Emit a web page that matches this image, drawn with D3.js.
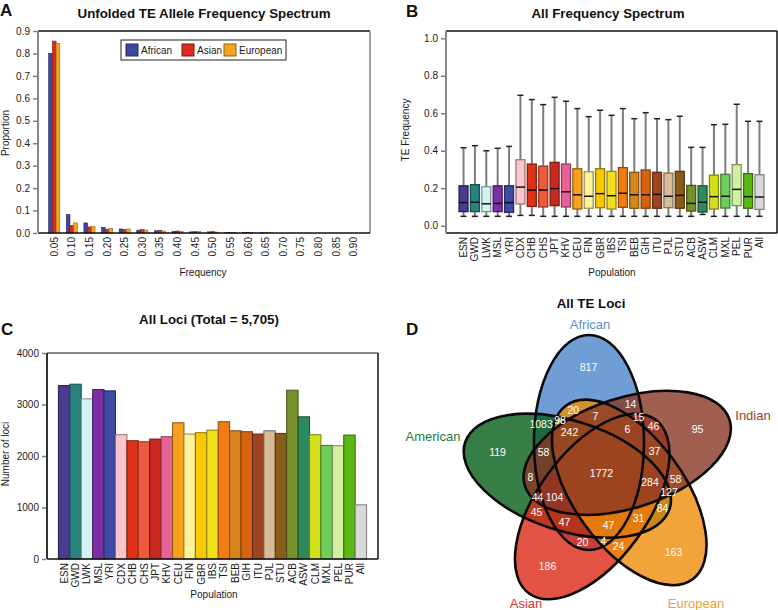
<!DOCTYPE html>
<html><head><meta charset="utf-8">
<script src="https://cdn.jsdelivr.net/npm/d3@7"></script>
<style>body{margin:0;background:#fff}svg text{font-family:"Liberation Sans",Arial,Helvetica,sans-serif}</style>
</head><body><svg id="c" width="778" height="610"></svg>
<script>
// ---------------- DATA ----------------
// Panel A: unfolded allele frequency spectrum
const freqBins = ["0.05","0.10","0.15","0.20","0.25","0.30","0.35","0.40","0.45","0.50","0.55","0.60","0.65","0.70","0.75","0.80","0.85","0.90"];
const afsAfrican  = [0.800,0.082,0.045,0.025,0.018,0.013,0.010,0.007,0.005,0.005,0.003,0.002,0.001,0,0,0,0,0];
const afsAsian    = [0.855,0.034,0.027,0.016,0.015,0.015,0.012,0.009,0.006,0.006,0.003,0.002,0.001,0,0,0,0,0];
const afsEuropean = [0.845,0.045,0.030,0.021,0.018,0.013,0.009,0.007,0.006,0.004,0.003,0.002,0.001,0,0,0,0,0];
const afsGroups = ["African","Asian","European"];
const afsColors = ["#3d479f","#db2b1f","#f5a51f"];
const afsYTicks = [0,0.1,0.2,0.3,0.4,0.5,0.6,0.7,0.8,0.9];

// Panels B & C: populations
const populations = ["ESN","GWD","LWK","MSL","YRI","CDX","CHB","CHS","JPT","KHV","CEU","FIN","GBR","IBS","TSI","BEB","GIH","ITU","PJL","STU","ACB","ASW","CLM","MXL","PEL","PUR","All"];
const popColors = ["#4a3a90","#28837f","#d5f2f2","#7a30a0","#3f4aa5","#fbc5cc","#e0301a","#f05a3c","#c9291f","#e8629a","#f5a11c","#fff09a","#f8c800","#f2e01e","#f27c12","#d4861c","#d9620f","#9e4420","#d8bc98","#8a5c1c","#76902c","#2e8a5a","#d6e01a","#6fcd5a","#d2f0a2","#5ab714","#d9d9d9"];
const boxHi  = [0.416,0.427,0.400,0.413,0.423,0.696,0.673,0.646,0.685,0.664,0.625,0.582,0.616,0.589,0.625,0.571,0.603,0.571,0.566,0.584,0.418,0.418,0.539,0.541,0.648,0.557,0.557];
const boxQ3  = [0.213,0.219,0.208,0.213,0.213,0.352,0.329,0.318,0.338,0.329,0.304,0.288,0.304,0.290,0.310,0.285,0.297,0.285,0.281,0.290,0.215,0.213,0.270,0.274,0.326,0.278,0.272];
const boxMed = [0.123,0.125,0.117,0.119,0.123,0.206,0.190,0.190,0.198,0.181,0.165,0.157,0.171,0.160,0.173,0.165,0.165,0.167,0.157,0.162,0.119,0.125,0.155,0.157,0.194,0.155,0.153];
const boxQ1  = [0.075,0.075,0.075,0.075,0.071,0.116,0.103,0.100,0.107,0.100,0.089,0.093,0.096,0.089,0.098,0.093,0.093,0.093,0.096,0.093,0.078,0.073,0.089,0.094,0.107,0.093,0.087];
const boxLo  = [0.050,0.050,0.050,0.050,0.050,0.055,0.055,0.050,0.050,0.050,0.050,0.050,0.050,0.050,0.050,0.050,0.050,0.050,0.050,0.050,0.050,0.060,0.050,0.050,0.050,0.050,0.050];
const boxYTicks = [0,0.2,0.4,0.6,0.8,1.0];
const lociCounts = [3368,3394,3110,3290,3265,2413,2297,2277,2329,2374,2645,2426,2452,2503,2665,2490,2471,2426,2490,2439,3277,2761,2413,2206,2200,2406,1052];
const lociYTicks = [0,1000,2000,3000,4000];

// Panel D: five-set Venn (A=African, M=American, S=Asian, E=European, I=Indian)
const vennSets = ["African","American","Asian","European","Indian"];
const vennSetKeys = ["A","M","S","E","I"];
const vennFill = ["#4b86cb","#055c18","#db2814","#ef8c09","#883724"];
const vennLabelColor = ["#5b8fd0","#2a7a3a","#d8352a","#f0a030","#9a3f2a"];
const vennRegions = ["A","M","S","E","I","AM","AS","AE","AI","MS","ME","MI","SE","SI","EI","AMS","AME","AMI","ASE","ASI","AEI","MSE","MSI","MEI","SEI","AMSE","AMSI","AMEI","ASEI","MSEI","AMSEI"];
const vennCounts  = [817,119,186,163,95,1083,20,20,14,45,84,8,24,46,58,47,98,58,4,15,7,31,44,127,37,47,104,242,6,284,1772];

// ---------------- DRAW ----------------
const svg = d3.select("#c");
svg.append("rect").attr("width",778).attr("height",610).attr("fill","#fff");
const TXT = "#1a1a1a";

function panelLetter(t,x,y){ svg.append("text").attr("x",x).attr("y",y).attr("font-size",17).attr("font-weight","bold").attr("fill","#111").text(t); }
function title(t,x,y){ svg.append("text").attr("x",x).attr("y",y).attr("text-anchor","middle").attr("font-size",13.3).attr("font-weight","bold").attr("fill","#111").text(t); }
function line(x1,y1,x2,y2,c,w){ svg.append("line").attr("x1",x1).attr("y1",y1).attr("x2",x2).attr("y2",y2).attr("stroke",c).attr("stroke-width",w); }
function yAxis(scale,x,ticks,fmt){
  const g = svg.append("g").attr("transform",`translate(${x},0)`).call(d3.axisLeft(scale).tickValues(ticks).tickFormat(fmt).tickSize(4).tickPadding(3));
  g.select(".domain").remove();
  g.selectAll(".tick line").attr("stroke","#808080").attr("stroke-width",1.5);
  g.selectAll("text").attr("font-size",10).attr("fill",TXT);
}
function xAxisRot(scale,y){
  const g = svg.append("g").attr("transform",`translate(0,${y})`).call(d3.axisBottom(scale).tickSize(0).tickPadding(0));
  g.select(".domain").remove();
  g.selectAll("text").attr("font-size",10).attr("fill",TXT)
    .attr("transform","rotate(-90)").attr("text-anchor","end").attr("x",-4).attr("y",0).attr("dy","0.35em");
}
function vLabel(t,x,y){ svg.append("text").attr("transform",`translate(${x},${y}) rotate(-90)`).attr("text-anchor","middle").attr("font-size",10).attr("fill",TXT).text(t); }
function hLabel(t,x,y){ svg.append("text").attr("x",x).attr("y",y).attr("text-anchor","middle").attr("font-size",10).attr("fill",TXT).text(t); }

// ===== Panel A =====
const A = {l:38,r:370,t:31,b:233};
const xA = d3.scaleBand().domain(freqBins).range([A.l,A.r]).paddingInner(0).paddingOuter(0.42);
const xAg = d3.scaleBand().domain(afsGroups).range([0,xA.bandwidth()]).paddingInner(0).paddingOuter(0.88);
const yA = d3.scaleLinear().domain([0,0.9]).range([A.b,A.t]);
const afsSeries = [afsAfrican,afsAsian,afsEuropean];
afsGroups.forEach((grp,gi)=>{
  svg.append("g").selectAll("rect")
    .data(freqBins.map((f,i)=>({f,v:afsSeries[gi][i]})).filter(d=>d.v>0))
    .join("rect")
    .attr("x",d=>xA(d.f)+xAg(grp)).attr("y",d=>yA(d.v))
    .attr("width",xAg.bandwidth()).attr("height",d=>yA(0)-yA(d.v))
    .attr("fill",afsColors[gi]).attr("stroke",d3.color(afsColors[gi]).darker(1.3)).attr("stroke-width",0.6);
});
line(A.l,A.t,A.r,A.t,"#111",1.5);
line(A.r,A.t,A.r,A.b,"#888",1.5);
line(A.l,A.b,A.r,A.b,"#111",1.5);
line(A.l,A.t,A.l,A.b,"#888",2);
yAxis(yA,A.l-1,afsYTicks,d3.format(".1f"));
xAxisRot(xA,A.b);
panelLetter("A",0,16);
title("Unfolded TE Allele Frequency Spectrum",204,18);
vLabel("Proportion",9,133);
hLabel("Frequency",203,276);
// legend
const lg = svg.append("g");
lg.append("rect").attr("x",121).attr("y",40).attr("width",165).attr("height",20).attr("fill","#fff").attr("stroke","#222").attr("stroke-width",1);
const lgX = [126,182,224];
afsGroups.forEach((grp,gi)=>{
  lg.append("rect").attr("x",lgX[gi]).attr("y",44).attr("width",12).attr("height",12).attr("fill",afsColors[gi]).attr("stroke",d3.color(afsColors[gi]).darker(1.5)).attr("stroke-width",1);
  lg.append("text").attr("x",lgX[gi]+15).attr("y",54).attr("font-size",10).attr("fill",TXT).text(grp);
});

// ===== Panel B =====
const B = {l:446,r:777,t:31,b:233};
const xB = d3.scaleBand().domain(populations).range([B.l,B.r]).paddingInner(0).paddingOuter(1.04);
const yB = d3.scaleLinear().domain([0,1]).range([225.7,38.3]);
const boxData = populations.map((p,i)=>({p,c:popColors[i],hi:boxHi[i],q3:boxQ3[i],med:boxMed[i],q1:boxQ1[i],lo:boxLo[i]}));
const bw = 9;
const gB = svg.append("g");
const cxB = d=>xB(d.p)+xB.bandwidth()/2;
gB.selectAll(".wh").data(boxData).join("line").attr("x1",cxB).attr("x2",cxB).attr("y1",d=>yB(d.hi)).attr("y2",d=>yB(d.q3)).attr("stroke","#7d7d7d").attr("stroke-width",2);
gB.selectAll(".wl").data(boxData).join("line").attr("x1",cxB).attr("x2",cxB).attr("y1",d=>yB(d.q1)).attr("y2",d=>yB(d.lo)).attr("stroke","#7d7d7d").attr("stroke-width",2);
gB.selectAll(".ch").data(boxData).join("line").attr("x1",d=>cxB(d)-3).attr("x2",d=>cxB(d)+3).attr("y1",d=>yB(d.hi)).attr("y2",d=>yB(d.hi)).attr("stroke","#222").attr("stroke-width",1.5);
gB.selectAll(".cl").data(boxData).join("line").attr("x1",d=>cxB(d)-3).attr("x2",d=>cxB(d)+3).attr("y1",d=>yB(d.lo)).attr("y2",d=>yB(d.lo)).attr("stroke","#222").attr("stroke-width",1.5);
gB.selectAll(".bx").data(boxData).join("rect").attr("x",d=>cxB(d)-bw/2).attr("width",bw).attr("y",d=>yB(d.q3)).attr("height",d=>yB(d.q1)-yB(d.q3))
  .attr("fill",d=>d.c).attr("stroke",d=>d3.color(d.c).darker(1.4)).attr("stroke-width",1.3);
gB.selectAll(".md").data(boxData).join("line").attr("x1",d=>cxB(d)-bw/2).attr("x2",d=>cxB(d)+bw/2).attr("y1",d=>yB(d.med)).attr("y2",d=>yB(d.med)).attr("stroke","#111").attr("stroke-width",1.5);
line(B.l,B.t,B.r,B.t,"#111",1.5);
line(B.r,B.t,B.r,B.b,"#111",1.5);
line(B.l,B.b,B.r,B.b,"#111",1.5);
line(B.l,B.t,B.l,B.b,"#888",2);
yAxis(yB,B.l-1,boxYTicks,d3.format(".1f"));
xAxisRot(xB,B.b);
panelLetter("B",406,17);
title("All Frequency Spectrum",608,18);
vLabel("TE Frequency",409,130);
hLabel("Population",612,276);

// ===== Panel C =====
const C = {l:47,r:378,t:353,b:559};
const xC = d3.scaleBand().domain(populations).range([C.l,C.r]).paddingInner(0).paddingOuter(1.0);
const yC = d3.scaleLinear().domain([0,4000]).range([C.b,C.t]);
svg.append("g").selectAll("rect").data(populations.map((p,i)=>({p,v:lociCounts[i],c:popColors[i]}))).join("rect")
  .attr("x",d=>xC(d.p)).attr("width",xC.bandwidth()).attr("y",d=>yC(d.v)).attr("height",d=>yC(0)-yC(d.v))
  .attr("fill",d=>d.c).attr("stroke",d=>d3.color(d.c).darker(1.6)).attr("stroke-width",1);
line(C.l,C.t,C.r,C.t,"#888",2);
line(C.r,C.t,C.r,C.b,"#111",1.5);
line(C.l,C.b,C.r,C.b,"#111",1.5);
line(C.l,C.t,C.l,C.b,"#333",2);
yAxis(yC,C.l-1,lociYTicks,d3.format("d"));
xAxisRot(xC,C.b);
panelLetter("C",1,335);
title("All Loci (Total = 5,705)",209,324);
vLabel("Number of loci",9,454);
hLabel("Population",214,598);

// ===== Panel D: Venn =====
const vO = [601,474];
const vG = {d:33.7, delta:13.9, tau:-7, a:55, b:107.5, base:97};
const ells = vennSets.map((s,k)=>{
  const al = vG.base + 72*k;
  const ca = (al+vG.delta)*Math.PI/180;
  return {k, cx:vO[0]+vG.d*Math.cos(ca), cy:vO[1]-vG.d*Math.sin(ca), th:(al+vG.tau)*Math.PI/180, thDeg:al+vG.tau};
});
function inside(e,px,py){
  const dx=px-e.cx, dy=e.cy-py;
  const u=dx*Math.cos(e.th)+dy*Math.sin(e.th), v=-dx*Math.sin(e.th)+dy*Math.cos(e.th);
  return (u*u)/(vG.b*vG.b)+(v*v)/(vG.a*vG.a) <= 1;
}
const gD = svg.append("g");
gD.selectAll(".ef").data(ells).join("ellipse")
  .attr("cx",e=>e.cx).attr("cy",e=>e.cy).attr("rx",vG.b).attr("ry",vG.a)
  .attr("transform",e=>`rotate(${-e.thDeg},${e.cx},${e.cy})`)
  .attr("fill",e=>vennFill[e.k]).attr("fill-opacity",0.8);
gD.selectAll(".es").data(ells).join("ellipse")
  .attr("cx",e=>e.cx).attr("cy",e=>e.cy).attr("rx",vG.b).attr("ry",vG.a)
  .attr("transform",e=>`rotate(${-e.thDeg},${e.cx},${e.cy})`)
  .attr("fill","none").attr("stroke","#0a0a0a").attr("stroke-width",2.6);
// label positions: pole of inaccessibility of each region on a pixel grid
const gx0=455, gy0=318, GW=296, GH=296;
const mask = new Uint8Array(GW*GH);
for(let j=0;j<GH;j++) for(let i=0;i<GW;i++){
  let m=0; const px=gx0+i+0.5, py=gy0+j+0.5;
  ells.forEach(e=>{ if(inside(e,px,py)) m|=(1<<e.k); });
  mask[j*GW+i]=m;
}
const dist = new Float32Array(GW*GH);
for(let j=0;j<GH;j++) for(let i=0;i<GW;i++){
  const id=j*GW+i, m=mask[id];
  let b = (m===0)||i===0||j===0||i===GW-1||j===GH-1;
  if(!b){ b = mask[id-1]!==m||mask[id+1]!==m||mask[id-GW]!==m||mask[id+GW]!==m; }
  dist[id] = b?0:1e9;
}
const S2=1.4142;
for(let j=1;j<GH-1;j++) for(let i=1;i<GW-1;i++){
  const id=j*GW+i; let v=dist[id];
  v=Math.min(v,dist[id-1]+1,dist[id-GW]+1,dist[id-GW-1]+S2,dist[id-GW+1]+S2); dist[id]=v;
}
for(let j=GH-2;j>0;j--) for(let i=GW-2;i>0;i--){
  const id=j*GW+i; let v=dist[id];
  v=Math.min(v,dist[id+1]+1,dist[id+GW]+1,dist[id+GW+1]+S2,dist[id+GW-1]+S2); dist[id]=v;
}
const best = {};
for(let id=0;id<GW*GH;id++){ const m=mask[id]; if(!m) continue; if(!best[m]||dist[id]>best[m].d) best[m]={d:dist[id],x:gx0+(id%GW)+0.5,y:gy0+Math.floor(id/GW)+0.5}; }
const regionMask = r => r.split("").reduce((acc,ch)=>acc|(1<<vennSetKeys.indexOf(ch)),0);
const FS = 10.5;
const vLabels = vennRegions.map((r,i)=>{ const p=best[regionMask(r)]; return p?{r,n:vennCounts[i],x:p.x,y:p.y,w:String(vennCounts[i]).length*0.556*FS+1.5,h:FS}:null; }).filter(Boolean);
// nudge overlapping labels apart horizontally
for(let it=0;it<30;it++){
  let moved=false;
  for(let i=0;i<vLabels.length;i++) for(let j=i+1;j<vLabels.length;j++){
    const p=vLabels[i], q=vLabels[j];
    const ox=(p.w+q.w)/2-Math.abs(p.x-q.x), oy=(p.h+q.h)/2-Math.abs(p.y-q.y);
    if(ox>0&&oy>0){ const s=(p.x<=q.x)?-1:1; p.x+=s*ox/2; q.x-=s*ox/2; moved=true; }
  }
  if(!moved) break;
}
gD.selectAll(".rl").data(vLabels).join("text")
  .attr("x",d=>d.x).attr("y",d=>d.y).attr("dy","0.35em").attr("text-anchor","middle")
  .attr("font-size",FS).attr("fill","#fff").text(d=>d.n);
const setLabelPos = [[590,329],[433,441],[526,608],[696,608],[753,420]];
vennSets.forEach((s,k)=>{
  svg.append("text").attr("x",setLabelPos[k][0]).attr("y",setLabelPos[k][1]).attr("text-anchor","middle").attr("font-size",13).attr("fill",vennLabelColor[k]).text(s);
});
panelLetter("D",406,335);
title("All TE Loci",591,308);
</script></body></html>
